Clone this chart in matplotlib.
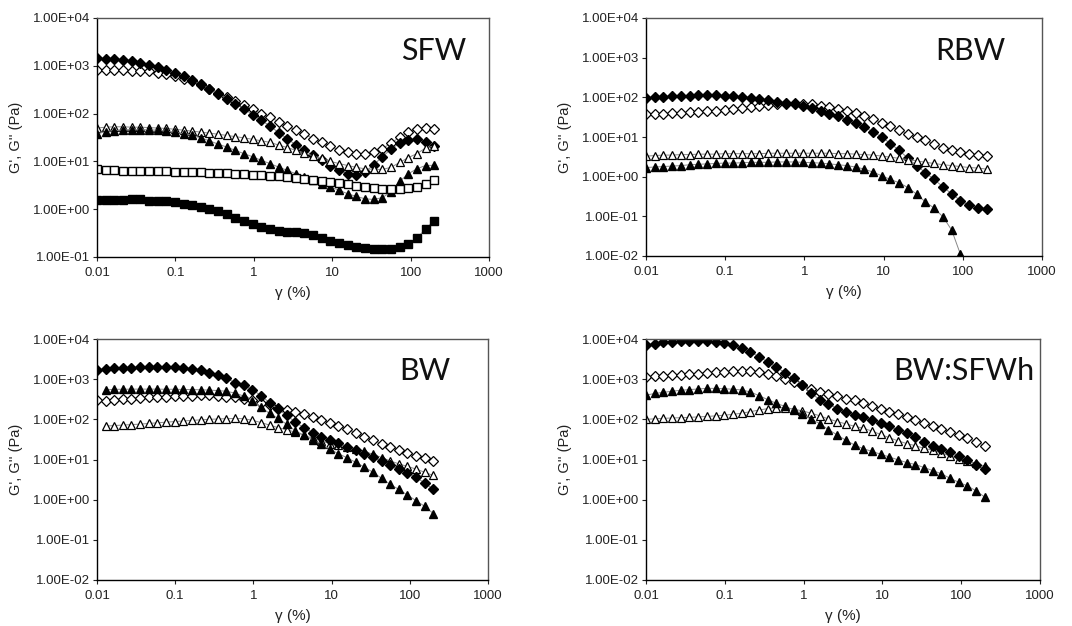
import matplotlib
matplotlib.use("Agg")
import matplotlib.pyplot as plt
from matplotlib.ticker import FixedLocator, FuncFormatter, NullLocator

# strain (%) values of the amplitude sweep
strain = [0.01, 0.0129, 0.0166, 0.0214, 0.0276, 0.0356, 0.0459, 0.0592, 0.0763, 0.0983,
          0.127, 0.163, 0.211, 0.271, 0.350, 0.451, 0.581, 0.750, 0.966, 1.25,
          1.61, 2.07, 2.67, 3.44, 4.43, 5.72, 7.37, 9.50, 12.2, 15.8,
          20.3, 26.2, 33.8, 43.6, 56.2, 72.4, 93.4, 120, 155, 200]

# ---- SFW ----
sfw_fd = [1450, 1420, 1380, 1330, 1250, 1150, 1050, 930, 820, 700,
          600, 500, 410, 330, 260, 205, 160, 125, 95, 72,
          55, 40, 30, 22, 17, 13.5, 10.5, 8.0, 6.5, 5.5,
          5.2, 6.0, 8.5, 12.5, 18, 24, 28, 29, 26, 21]
sfw_od = [830, 820, 810, 800, 790, 780, 760, 720, 670, 610,
          540, 470, 400, 330, 270, 220, 180, 148, 122, 100,
          83, 68, 55, 45, 37, 30, 25, 20.5, 17.5, 15.5,
          14.3, 14.3, 15.5, 18.5, 24, 32, 41, 47, 50, 48]
sfw_ft = [38, 42, 44, 46, 46, 46, 46, 45, 43, 41,
          38, 35, 31, 27, 23, 20, 17, 14.5, 12.5, 10.5,
          9.0, 7.6, 6.5, 5.5, 4.7, 4.0, 3.4, 2.9, 2.5, 2.1,
          1.85, 1.65, 1.6, 1.75, 2.3, 3.8, 5.5, 7.0, 8.2, 8.3]
sfw_ot = [50, 52, 53, 53, 52, 52, 51, 50, 49, 47,
          45, 43, 41, 39, 37, 35, 33, 31, 29, 27,
          25, 22, 19.5, 17, 15, 13, 11.5, 10, 9, 8.2,
          7.5, 7.0, 6.8, 6.8, 7.5, 9.5, 12, 14.5, 19, 21]
sfw_os = [6.8, 6.6, 6.5, 6.4, 6.4, 6.3, 6.3, 6.2, 6.2, 6.1,
          6.0, 6.0, 5.9, 5.8, 5.7, 5.6, 5.5, 5.4, 5.3, 5.2,
          5.0, 4.9, 4.7, 4.5, 4.3, 4.1, 3.9, 3.7, 3.5, 3.3,
          3.1, 2.95, 2.8, 2.7, 2.65, 2.65, 2.75, 2.9, 3.3, 4.0]
sfw_fs = [1.55, 1.55, 1.55, 1.55, 1.6, 1.6, 1.5, 1.5, 1.45, 1.4,
          1.3, 1.2, 1.1, 1.0, 0.9, 0.78, 0.67, 0.58, 0.5, 0.43,
          0.38, 0.35, 0.34, 0.33, 0.32, 0.29, 0.25, 0.22, 0.2, 0.18,
          0.165, 0.155, 0.15, 0.148, 0.15, 0.16, 0.19, 0.25, 0.38, 0.58]

# ---- RBW ----
rbw_fd = [95, 100, 103, 106, 108, 110, 112, 113, 112, 110,
          107, 103, 98, 92, 85, 78, 72, 66, 60, 53,
          46, 39, 33, 27, 22, 17.5, 13.5, 10, 6.8, 4.6,
          2.9, 1.9, 1.25, 0.85, 0.55, 0.37, 0.25, 0.19, 0.165, 0.155]
rbw_od = [37, 38, 39, 40, 41, 42, 43, 44, 46, 48,
          50, 53, 56, 60, 64, 67, 69, 70, 69, 66,
          62, 57, 52, 46, 40, 34, 28, 23, 18.5, 15,
          12, 10, 8.2, 6.6, 5.4, 4.6, 4.1, 3.8, 3.6, 3.4]
rbw_ot = [3.3, 3.4, 3.5, 3.5, 3.6, 3.6, 3.7, 3.7, 3.7, 3.8,
          3.8, 3.8, 3.8, 3.8, 3.9, 3.9, 3.9, 3.9, 3.9, 3.9,
          3.9, 3.9, 3.8, 3.8, 3.7, 3.6, 3.5, 3.3, 3.1, 2.9,
          2.7, 2.5, 2.3, 2.15, 2.0, 1.9, 1.8, 1.7, 1.65, 1.55]
rbw_ft = [1.7, 1.75, 1.8, 1.85, 1.9, 2.0, 2.05, 2.1, 2.15, 2.2,
          2.2, 2.25, 2.3, 2.3, 2.3, 2.35, 2.35, 2.35, 2.3, 2.25,
          2.2, 2.1, 2.0, 1.9, 1.75, 1.55, 1.3, 1.05, 0.85, 0.7,
          0.53, 0.36, 0.23, 0.16, 0.097, 0.045, 0.011]

# ---- BW ----
bw_fd = [1650, 1750, 1850, 1900, 1950, 2000, 2000, 2000, 2000, 1980,
         1900, 1800, 1650, 1450, 1250, 1050, 820, 700, 550, 390,
         260, 180, 125, 85, 62, 47, 37, 31, 26, 21,
         17, 14, 11.5, 9.0, 7.2, 5.8, 4.6, 3.6, 2.6, 1.8]
bw_ft = [540, 560, 560, 565, 565, 565, 565, 560, 560,
         555, 550, 545, 535, 520, 500, 450, 380, 290, 200,
         140, 105, 75, 52, 40, 31, 24, 18, 14, 11,
         8.5, 6.5, 4.8, 3.4, 2.4, 1.8, 1.3, 0.95, 0.68, 0.45]
bw_od = [300, 280, 310, 320, 330, 340, 350, 360, 370, 375,
         380, 390, 400, 400, 390, 370, 350, 330, 300, 260,
         225, 195, 170, 150, 132, 115, 98, 82, 70, 57,
         46, 37, 30, 25, 21, 17.5, 14.5, 12.3, 10.8, 9.0]
bw_ot = [68, 70, 72, 74, 76, 79, 82, 85, 88,
         91, 94, 97, 100, 102, 104, 105, 104, 95, 83,
         72, 62, 55, 48, 40, 34, 29, 25, 23, 21,
         18.5, 16, 13.5, 11.2, 9.2, 7.8, 6.7, 5.8, 4.8, 4.0]

# ---- BW:SFWh ----
bs_fd = [6900, 7700, 8200, 8500, 8700, 8800, 8800, 8700, 8400, 8000,
         7200, 6000, 4800, 3600, 2700, 2000, 1450, 1050, 700, 440,
         310, 240, 185, 150, 130, 112, 95, 80, 68, 54,
         46, 36, 28, 22, 18, 15.5, 12.5, 10, 7.5, 5.8]
bs_od = [1150, 1180, 1220, 1260, 1300, 1340, 1380, 1430, 1480, 1530,
         1580, 1600, 1580, 1480, 1330, 1170, 1020, 870, 700, 570,
         490, 430, 375, 330, 295, 255, 215, 185, 155, 132,
         115, 96, 80, 69, 58, 48, 40, 34, 28, 22]
bs_ft = [400, 440, 470, 500, 530, 550, 570, 590, 590, 580,
         560, 540, 480, 390, 310, 250, 210, 170, 135, 100,
         78, 55, 41, 30, 23, 18.5, 16, 13.5, 11.6, 9.8,
         8.4, 7.5, 6.3, 5.3, 4.4, 3.4, 2.7, 2.2, 1.65, 1.15]
bs_ot = [100, 103, 106, 108, 110, 112, 115, 118, 122, 127,
         133, 142, 155, 170, 185, 195, 195, 180, 162, 142,
         122, 102, 88, 77, 67, 60, 51, 42, 35, 29,
         25, 22, 19, 17, 14.5, 12.3, 10.5, 9.0, 8.0, 6.8]

panel_titles = ["SFW", "RBW", "BW", "BW:SFWh"]
y_ranges = [(1e-1, 1e4), (1e-2, 1e4), (1e-2, 1e4), (1e-2, 1e4)]
x_ticks = [0.01, 0.1, 1, 10, 100, 1000]
x_ticklabels = ["0.01", "0.1", "1", "10", "100", "1000"]

plt.rcParams['font.family'] = ['Liberation Sans', 'DejaVu Sans']

fig = plt.figure(figsize=(10.72, 6.26), dpi=100)
rects_px = [(97, 18, 392, 239), (646, 18, 396, 238), (97, 339, 391, 241), (646, 339, 394, 241)]
title_pos = [(0.775, 0.862), (0.73, 0.862), (0.773, 0.867), (0.627, 0.867)]

STY = {
    'fd': dict(marker='D', mfc='black', mec='black', ms=4.6),
    'od': dict(marker='D', mfc='white', mec='black', ms=4.6, mew=0.9),
    'ft': dict(marker='^', mfc='black', mec='black', ms=6.0),
    'ot': dict(marker='^', mfc='white', mec='black', ms=6.0, mew=0.9),
    'os': dict(marker='s', mfc='white', mec='black', ms=5.2, mew=1.0),
    'fs': dict(marker='s', mfc='black', mec='black', ms=5.6),
}

panels = [
    [('od', strain, sfw_od), ('fd', strain, sfw_fd), ('ot', strain, sfw_ot),
     ('ft', strain, sfw_ft), ('os', strain, sfw_os), ('fs', strain, sfw_fs)],
    [('od', strain, rbw_od), ('fd', strain, rbw_fd), ('ot', strain, rbw_ot),
     ('ft', strain[:len(rbw_ft)], rbw_ft)],
    [('od', strain, bw_od), ('ot', strain[1:], bw_ot), ('ft', strain[1:], bw_ft),
     ('fd', strain, bw_fd)],
    [('od', strain, bs_od), ('ot', strain, bs_ot), ('ft', strain, bs_ft),
     ('fd', strain, bs_fd)],
]

def efmt(v, pos):
    return "%.2E" % v

W, H = 1072.0, 626.0
for i, (lx, ty, w, h) in enumerate(rects_px):
    ax = fig.add_axes((lx / W, 1 - (ty + h) / H, w / W, h / H))
    for key, xs, ys in panels[i]:
        ax.plot(xs, ys, color='#888888', lw=0.7, linestyle='-', zorder=2,
                **STY[key])
    ax.set_xscale('log')
    ax.set_yscale('log')
    ax.set_xlim(0.01, 1000)
    ax.set_ylim(*y_ranges[i])
    ax.xaxis.set_major_locator(FixedLocator(x_ticks))
    ax.xaxis.set_major_formatter(FuncFormatter(
        lambda v, p: x_ticklabels[p] if p is not None and p < len(x_ticklabels) else ""))
    ax.xaxis.set_minor_locator(NullLocator())
    lo, hi = y_ranges[i]
    yt = []
    v = lo
    while v <= hi * 1.001:
        yt.append(v)
        v *= 10
    ax.yaxis.set_major_locator(FixedLocator(yt))
    ax.yaxis.set_major_formatter(FuncFormatter(efmt))
    ax.yaxis.set_minor_locator(NullLocator())
    ax.tick_params(axis='both', which='major', direction='out', length=3,
                   width=0.8, labelsize=9.5, colors='#222222', pad=2)
    ax.tick_params(axis='x', pad=4)
    for side in ['left', 'bottom']:
        ax.spines[side].set_color('black')
        ax.spines[side].set_linewidth(1.0)
    for side in ['top', 'right']:
        ax.spines[side].set_color('#555555')
        ax.spines[side].set_linewidth(1.0)
    ax.set_xlabel('γ (%)', fontsize=11, color='#222222')
    ax.set_ylabel("G', G'' (Pa)", fontsize=10.5, color='#222222')
    ax.yaxis.set_label_coords(-74.0 / w, 0.5)
    ax.xaxis.set_label_coords(0.5, -29.0 / h)
    tx, tyy = title_pos[i]
    ax.text(tx, tyy, panel_titles[i], transform=ax.transAxes, ha='left', va='center',
            fontsize=22, family=['Lato', 'DejaVu Sans'], color='#111111')

fig.savefig('out.png', dpi=100)
